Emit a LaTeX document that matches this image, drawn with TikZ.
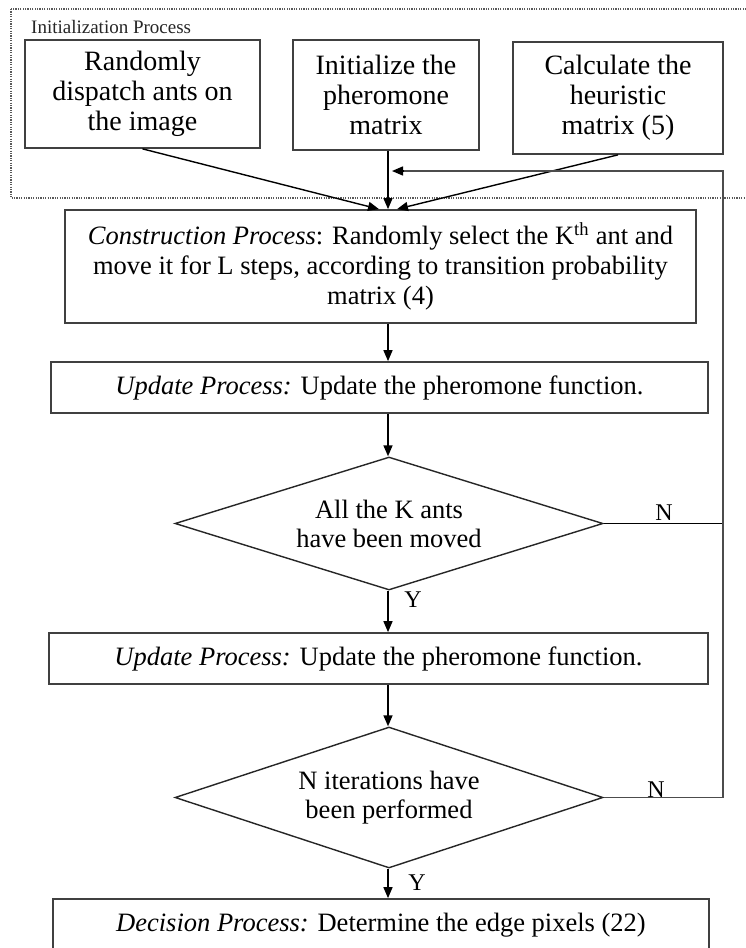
\documentclass[tikz,border=0pt]{standalone}
\usepackage{fontspec}
\setmainfont{Liberation Serif}
\usetikzlibrary{arrows.meta,shapes.geometric,calc}
\begin{document}
\begin{tikzpicture}[x=1pt,y=-1pt,
  txt/.style={font=\fontsize{26.5}{30}\selectfont},
  pbox/.style={draw=black!75, line width=1.7pt, align=center, inner sep=0pt, txt},
  tbox/.style={pbox, font=\fontsize{28}{30}\selectfont},
  dbox/.style={draw=black!85, line width=1.4pt, shape=diamond, aspect=3.2, align=center, inner sep=0pt, font=\fontsize{26.5}{29}\selectfont},
  conn/.style={draw=black, line width=1.4pt},
  arr/.style={conn, -{Triangle[length=11pt,width=9pt]}},
  fb/.style={draw=black!70, line width=1.8pt},
  lbl/.style={inner sep=0pt, font=\fontsize{24}{26}\selectfont},
  dots/.style={draw=black!65, line width=1.3pt, dash pattern=on 1.2pt off 1.2pt}
]
\useasboundingbox (0,0) rectangle (746,948);
\fill[white] (0,0) rectangle (746,948);

% initialization group
\draw[dots] (11,9) rectangle (750,198);
\node[anchor=west, inner sep=0pt, font=\fontsize{19}{22}\selectfont, text=black!85] (lab) at (31,27) {Initialization Process};

\node[tbox, minimum width=235pt, minimum height=108pt] (b1) at (142.5,94) {Randomly\\dispatch ants on\\the image};
\node[tbox, minimum width=186pt, minimum height=110pt] (b2) at (386,95) {Initialize the\\pheromone\\matrix};
\node[tbox, minimum width=210pt, minimum height=112pt] (b3) at (618,98) {Calculate the\\heuristic\\matrix (5)};

\coordinate (ax) at (388,0);
\coordinate (rc) at (723,171);

\node[pbox, minimum width=631pt, minimum height=113pt] (cons) at (380.5,266.5)
  {\textit{Construction Process}: Randomly select the K\textsuperscript{th} ant and\\move it for L steps, according to transition probability\\matrix (4)};
\node[pbox, minimum width=657pt, minimum height=51pt] (up1) at (379.5,387.5)
  {\textit{Update Process:} Update the pheromone function.};
\node[dbox, minimum width=428pt, minimum height=133pt] (d1) at (389,523.5)
  {All the K ants\\have been moved};
\node[pbox, minimum width=659pt, minimum height=51pt] (up2) at (378.5,658.5)
  {\textit{Update Process:} Update the pheromone function.};
\node[dbox, minimum width=428pt, minimum height=141pt] (d2) at (389,797.5)
  {N iterations have\\been performed};
\node[pbox, minimum width=656pt, minimum height=52pt] (dec) at (381,925)
  {\textit{Decision Process:} Determine the edge pixels (22)};

\coordinate (t1) at ($(cons.north -| ax)+(-9,0)$);
\coordinate (t2) at (cons.north -| ax);
\coordinate (t3) at ($(cons.north -| ax)+(9,0)$);
\coordinate (tip) at ($(rc -| ax)+(4,0)$);

% arrows from initialization
\draw[arr] (b1.south) -- (t1);
\draw[arr] (b2.south -| ax) -- (t2);
\draw[arr] (b3.south) -- (t3);

% main flow
\draw[arr] (cons.south -| ax) -- (up1.north -| ax);
\draw[arr] (up1.south -| ax) -- (d1.north -| ax);
\draw[arr] (d1.south -| ax) -- (up2.north -| ax);
\draw[arr] (up2.south -| ax) -- (d2.north -| ax);
\draw[arr] (d2.south -| ax) -- (dec.north -| ax);

% feedback
\draw[conn] (d1.east) -- (d1.east -| rc);
\draw[fb] (d2.east) -- (d2.east -| rc) -- (rc) -- ($(rc -| ax)+(14,0)$);
\draw[arr] ($(rc -| ax)+(16,0)$) -- (tip);

% labels
\node[lbl] (n1) at (664,513) {N};
\node[lbl] (n2) at (656,790) {N};
\node[lbl] (y1) at (413,600) {Y};
\node[lbl] (y2) at (417,883) {Y};
\end{tikzpicture}
\end{document}
